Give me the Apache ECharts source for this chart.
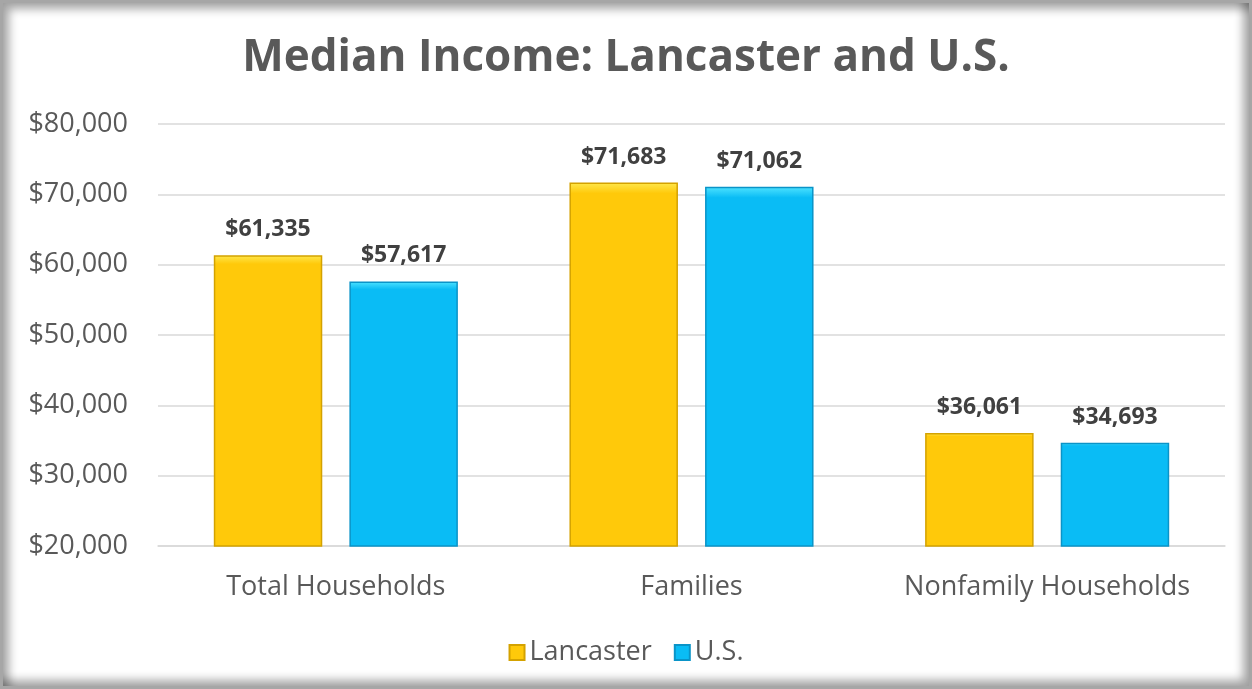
<!DOCTYPE html>
<html><head><meta charset="utf-8">
<script src="https://cdn.jsdelivr.net/npm/echarts@6/dist/echarts.min.js"></script>
<style>
html,body{margin:0;padding:0;background:#fff;}
#frame{position:absolute;left:0;top:0;width:1252px;height:689px;box-sizing:border-box;border:3px solid #a6a6a6;box-shadow:inset 6px 6px 10px rgba(0,0,0,0.35), inset -6px -6px 10px rgba(0,0,0,0.35);pointer-events:none;z-index:2;}
#chart{position:absolute;left:0;top:0;width:1252px;height:689px;}
</style></head>
<body>
<div id="chart"></div>
<div id="frame"></div>
<script>
const categories = ["Total Households", "Families", "Nonfamily Households"];
const lancaster = [61335, 71683, 36061];
const us = [57617, 71062, 34693];
const seriesNames = ["Lancaster", "U.S."];

const font = '"Open Sans", "Noto Sans", sans-serif';
const chart = echarts.init(document.getElementById('chart'));
function barStyle(main, light, dark){
  return {
    color: new echarts.graphic.LinearGradient(0,0,0,1,[
      {offset:0,color:light},{offset:0.03,color:main},{offset:1,color:main}
    ]),
    borderColor: dark, borderWidth: 1.5
  };
}
const labelCfg = {
  show:true, position:'top', distance:14, fontFamily:font, fontWeight:'bold', fontSize:23, color:'#404040',
  formatter: p => '$' + p.value.toLocaleString('en-US')
};
chart.setOption({
  animation:false,
  title:{text:'Median Income: Lancaster and U.S.', left:'center', top:31,
    textStyle:{fontFamily:font, fontWeight:'bold', fontSize:44, color:'#595959'}},
  legend:{bottom:18, left:'center', itemWidth:15, itemHeight:15, itemGap:22,
    textStyle:{fontFamily:font, fontSize:27, color:'#595959'},
    data:[{name:'Lancaster', icon:'rect'},{name:'U.S.', icon:'rect'}]},
  grid:{left:158, right:27, top:124, bottom:143},
  xAxis:{type:'category', data:categories,
    axisLine:{show:true, lineStyle:{color:'#d9d9d9', width:1.5}}, axisTick:{show:false},
    axisLabel:{interval:0, hideOverlap:false, fontFamily:font, fontSize:27, color:'#595959', margin:28}},
  yAxis:{type:'value', min:20000, max:80000, interval:10000,
    axisLine:{show:false}, axisTick:{show:false},
    splitLine:{lineStyle:{color:'#d9d9d9', width:1.5}},
    axisLabel:{fontFamily:font, fontSize:27, color:'#595959', margin:30,
      formatter: v => '$' + v.toLocaleString('en-US')}},
  series:[
    {name:seriesNames[0], type:'bar', data:lancaster, barWidth:'30.5%', barGap:'25%',
      itemStyle:barStyle('#FFC90A','#FFE84D','#D4A200'), label:labelCfg},
    {name:seriesNames[1], type:'bar', data:us, barWidth:'30.5%',
      itemStyle:barStyle('#0ABCF5','#4FE3FF','#0A94C8'), label:labelCfg}
  ]
});
</script>
</body></html>
